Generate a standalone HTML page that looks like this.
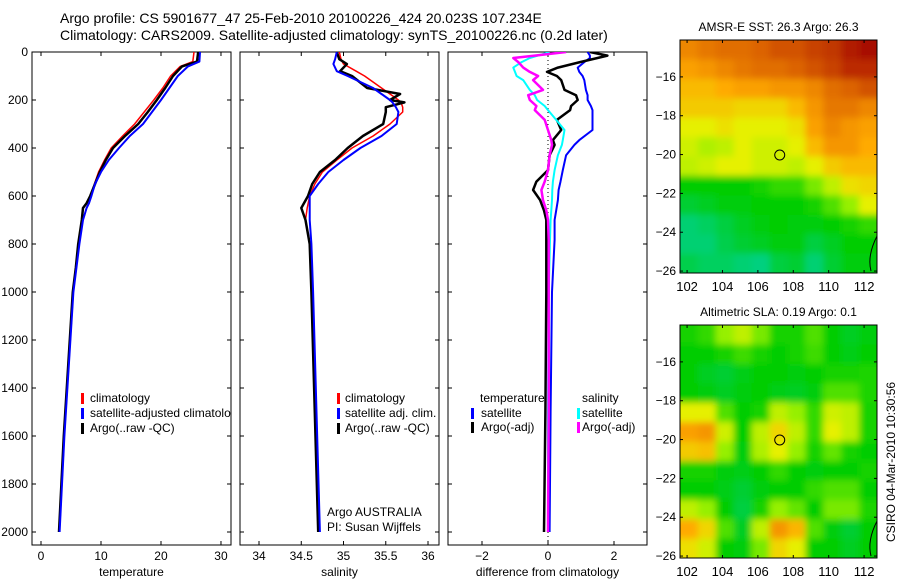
<!DOCTYPE html>
<html><head><meta charset="utf-8"><style>
body{margin:0;background:#fff}
svg{display:block;font-family:"Liberation Sans",sans-serif}
</style></head><body>
<svg id="fig" width="900" height="580" viewBox="0 0 900 580" xmlns="http://www.w3.org/2000/svg">
<defs><filter id="blur" x="-5%" y="-5%" width="110%" height="110%"><feGaussianBlur stdDeviation="3.5"/></filter></defs>
<text x="60" y="23" font-size="14">Argo profile: CS 5901677_47 25-Feb-2010 20100226_424 20.023S 107.234E</text>
<text x="60" y="40" font-size="14">Climatology: CARS2009. Satellite-adjusted climatology: synTS_20100226.nc (0.2d later)</text>
<g id="plots"></g>
<text transform="translate(895,462) rotate(-90)" font-size="12" text-anchor="middle">CSIRO 04-Mar-2010 10:30:56</text>
</svg>
<script>
// ---- data ----
const tDepth=[0,40,60,100,150,200,250,300,350,400,450,500,550,600,630,650,700,800,900,1000,1200,1400,1600,1800,2000];
const tArgo =[26.2,26.0,23.5,22.0,20.7,19.3,17.8,16.2,14.0,12.0,10.8,9.8,9.0,8.2,7.6,7.0,6.8,6.2,5.8,5.3,4.8,4.3,3.8,3.4,3.0];
const tClim =[25.5,25.3,23.2,21.6,20.3,18.8,17.2,15.6,13.6,11.7,10.6,9.6,8.9,8.3,8.0,7.6,7.0,6.3,5.8,5.3,4.8,4.3,3.8,3.4,3.0];
const tSat  =[26.5,26.4,24.5,22.8,21.4,20.0,18.5,17.0,14.8,13.0,11.3,10.0,9.0,8.4,8.0,7.6,7.0,6.4,5.9,5.4,4.9,4.4,3.9,3.5,3.1];
const sDepth=[0,30,50,80,100,150,175,200,210,230,250,300,350,400,450,500,550,600,650,700,800,1000,1500,2000];
const sArgo =[34.92,34.95,35.04,34.96,35.1,35.28,35.67,35.55,35.72,35.5,35.5,35.47,35.23,35.05,34.9,34.72,34.63,34.58,34.5,34.55,34.6,34.62,34.66,34.7];
const sClim =[34.95,34.97,35.0,35.15,35.25,35.45,35.55,35.65,35.68,35.7,35.7,35.55,35.35,35.1,34.92,34.75,34.66,34.6,34.57,34.55,34.6,34.62,34.66,34.7];
const sSat  =[34.92,34.9,34.88,34.92,35.05,35.35,35.45,35.55,35.58,35.62,35.65,35.63,35.45,35.2,35.0,34.82,34.7,34.6,34.6,34.6,34.62,34.64,34.68,34.72];
const dDepth=[0,15,25,42,65,83,100,117,158,180,200,225,242,283,325,367,387,430,492,540,575,617,660,700,783,1000,1500,2000];
const dTSat =[1.2,1.27,1.27,1.1,0.9,0.95,1.05,1.1,1.15,1.2,1.2,1.3,1.35,1.35,1.35,0.95,0.8,0.55,0.45,0.38,0.32,0.3,0.25,0.2,0.2,0.12,0.08,0.05];
const dTArgo=[1.27,1.8,1.5,0.97,0.3,-0.03,0.27,0.4,0.5,0.85,0.9,0.7,0.67,0.27,0.4,0.15,0.2,0.05,0.0,-0.35,-0.45,-0.24,-0.12,-0.05,-0.05,-0.05,-0.08,-0.12];
const dSSat =[0.05,-0.3,-0.55,-0.8,-1.05,-1.0,-0.95,-0.75,-0.55,-0.4,-0.33,-0.1,0.0,0.25,0.5,0.45,0.42,0.3,0.2,0.15,0.13,0.12,0.1,0.08,0.06,0.02,0.0,0.0];
const dSArgo=[0.55,-0.4,-1.05,-0.9,-0.75,-0.55,-0.3,-0.45,-0.15,-0.6,-0.55,-0.35,-0.4,-0.1,-0.0,0.1,0.12,0.05,0.0,-0.1,-0.2,-0.15,-0.05,0.0,0.02,0.02,0.02,0.0];
const depthTicks=[0,200,400,600,800,1000,1200,1400,1600,1800,2000];
const tTicks=[0,10,20,30], sTicks=[34,34.5,35,35.5,36], dTicks=[-2,0,2];
const latTicks=[16,18,20,22,24,26], lonTicks=[102,104,106,108,110,112];
const sstGrid=[
[0.75,0.78,0.8,0.8,0.82,0.85,0.85,0.88,0.9,0.95,0.98],
[0.7,0.72,0.75,0.78,0.8,0.8,0.82,0.85,0.88,0.92,0.92],
[0.65,0.65,0.68,0.7,0.7,0.72,0.72,0.75,0.8,0.82,0.85],
[0.62,0.62,0.62,0.6,0.6,0.6,0.65,0.72,0.78,0.78,0.75],
[0.55,0.55,0.58,0.55,0.55,0.55,0.58,0.7,0.75,0.72,0.7],
[0.52,0.48,0.5,0.55,0.52,0.52,0.55,0.65,0.72,0.72,0.68],
[0.5,0.52,0.55,0.55,0.52,0.52,0.5,0.55,0.62,0.65,0.65],
[0.3,0.3,0.3,0.3,0.32,0.35,0.35,0.42,0.5,0.58,0.6],
[0.22,0.25,0.28,0.28,0.3,0.3,0.3,0.32,0.38,0.45,0.55],
[0.12,0.15,0.2,0.25,0.28,0.3,0.28,0.28,0.3,0.32,0.35],
[0.12,0.12,0.18,0.22,0.25,0.28,0.28,0.2,0.25,0.3,0.3],
[0.18,0.15,0.15,0.12,0.1,0.2,0.22,0.12,0.22,0.28,0.28]];
const slaGrid=[
[0.32,0.35,0.45,0.5,0.42,0.32,0.32,0.38,0.3,0.25,0.28],
[0.3,0.3,0.32,0.36,0.32,0.3,0.32,0.36,0.3,0.27,0.3],
[0.3,0.25,0.22,0.27,0.3,0.3,0.28,0.3,0.32,0.32,0.33],
[0.3,0.28,0.25,0.28,0.3,0.27,0.25,0.28,0.38,0.38,0.33],
[0.55,0.55,0.38,0.3,0.32,0.5,0.45,0.35,0.52,0.5,0.32],
[0.7,0.72,0.52,0.3,0.5,0.6,0.5,0.35,0.55,0.5,0.32],
[0.62,0.64,0.45,0.28,0.48,0.55,0.45,0.32,0.4,0.32,0.3],
[0.32,0.32,0.28,0.27,0.3,0.35,0.3,0.28,0.3,0.3,0.32],
[0.3,0.3,0.27,0.22,0.28,0.3,0.3,0.35,0.38,0.38,0.3],
[0.5,0.45,0.3,0.2,0.32,0.45,0.4,0.3,0.42,0.42,0.33],
[0.68,0.6,0.38,0.25,0.5,0.72,0.66,0.38,0.28,0.22,0.3],
[0.58,0.52,0.3,0.28,0.42,0.6,0.55,0.3,0.3,0.25,0.3]];
const argoLon=107.234, argoLat=20.023;

// ---- drawing ----
const NS='http://www.w3.org/2000/svg';
const root=document.getElementById('plots');
function mk(tag,at,parent){const e=document.createElementNS(NS,tag);for(const k in at)e.setAttribute(k,at[k]);(parent||root).appendChild(e);return e;}
const yD=d=>52+d*0.24;
function panel(name,x0,x1,xmin,xmax,ticks,label,showY){
  const g=mk('g',{});
  
  
  const sx=v=>x0+(v-xmin)/(xmax-xmin)*(x1-x0);
  const cid='clip-'+name;
  const cp=mk('clipPath',{id:cid},g);mk('rect',{x:x0,y:52,width:x1-x0,height:493},cp);
  mk('rect',{x:x0,y:52,width:x1-x0,height:493,fill:'none',stroke:'#000','stroke-width':1},g);
  depthTicks.forEach(d=>{
    mk('line',{x1:x0,x2:x0+4,y1:yD(d),y2:yD(d),stroke:'#000'},g);
    mk('line',{x1:x1,x2:x1-4,y1:yD(d),y2:yD(d),stroke:'#000'},g);
    if(showY){const t=mk('text',{x:28,y:yD(d)+4,'font-size':12,'text-anchor':'end'},g);t.textContent=d;
      
      }
  });
  ticks.forEach(v=>{
    mk('line',{x1:sx(v),x2:sx(v),y1:545,y2:541,stroke:'#000'},g);
    mk('line',{x1:sx(v),x2:sx(v),y1:52,y2:56,stroke:'#000'},g);
    const t=mk('text',{x:sx(v),y:560,'font-size':12,'text-anchor':'middle'},g);t.textContent=(v<0?'\u2212'+(-v):v);
    
    
  });
  const xl=mk('text',{x:(x0+x1)/2,y:576,'font-size':12,'text-anchor':'middle'},g);xl.textContent=label;
  
  
  const inner=mk('g',{'clip-path':'url(#'+cid+')'},g);
  return {g,inner,sx};
}
function line(p,depths,vals,color,w,name){
  const pts=depths.map((d,i)=>p.sx(vals[i]).toFixed(1)+','+yD(d).toFixed(1)).join(' ');
  const e=mk('polyline',{points:pts,fill:'none',stroke:color,'stroke-width':w,'stroke-linejoin':'round'},p.inner);
  
  
}
function txt(p,x,y,s,name,extra){const t=mk('text',Object.assign({x,y,'font-size':12},extra||{}),p.inner);t.textContent=s;
  
  return t;}
function bar(p,x,y,c){mk('rect',{x,y:y-10,width:3,height:11,fill:c},p.inner);}

const p1=panel('temperature-panel',32,231,-1.5,31.67,tTicks,'temperature',true);
line(p1,tDepth,tClim,'#f00',1.5,'temp-climatology-line');
line(p1,tDepth,tArgo,'#000',2.5,'temp-argo-line');
line(p1,tDepth,tSat,'#00f',2,'temp-satellite-line');
bar(p1,81,403,'#f00');txt(p1,90,402,'climatology','legend-climatology');
bar(p1,81,418,'#00f');txt(p1,90,417,'satellite-adjusted climatology','legend-satellite');
bar(p1,81,433,'#000');txt(p1,90,432,'Argo(..raw -QC)','legend-argo');

const p2=panel('salinity-panel',240,439,33.775,36.13,sTicks,'salinity',false);
line(p2,sDepth,sClim,'#f00',1.5,'sal-climatology-line');
line(p2,sDepth,sArgo,'#000',2.5,'sal-argo-line');
line(p2,sDepth,sSat,'#00f',2,'sal-satellite-line');
bar(p2,337,403,'#f00');txt(p2,345,402,'climatology','legend-climatology');
bar(p2,337,418,'#00f');txt(p2,345,417,'satellite adj. clim.','legend-satellite');
bar(p2,337,433,'#000');txt(p2,345,432,'Argo(..raw -QC)','legend-argo');
txt(p2,327,516,'Argo AUSTRALIA','float-owner');
txt(p2,327,531,'PI: Susan Wijffels','float-pi');

const p3=panel('difference-panel',448,647,-3.03,3.0,dTicks,'difference from climatology',false);
mk('line',{x1:p3.sx(0),x2:p3.sx(0),y1:52,y2:545,stroke:'#000','stroke-dasharray':'1,3'},p3.inner);
line(p3,dDepth,dTSat,'#00f',2,'diff-temp-satellite');
line(p3,dDepth,dTArgo,'#000',2.5,'diff-temp-argo');
line(p3,dDepth,dSSat,'#0ff',2,'diff-sal-satellite');
line(p3,dDepth,dSArgo,'#f0f',2.5,'diff-sal-argo');
txt(p3,480,402,'temperature','legend-temperature-header');
txt(p3,582,402,'salinity','legend-salinity-header');
bar(p3,471,418,'#00f');txt(p3,481,417,'satellite','legend-temp-satellite');
bar(p3,577,418,'#0ff');txt(p3,582,417,'satellite','legend-sal-satellite');
bar(p3,471,432,'#000');txt(p3,481,431,'Argo(-adj)','legend-temp-argo');
bar(p3,577,432,'#f0f');txt(p3,582,431,'Argo(-adj)','legend-sal-argo');

function cmap(v){
  const st=[[0,[0,210,190]],[0.3,[0,205,0]],[0.45,[150,240,0]],[0.55,[230,240,0]],[0.68,[255,170,0]],[0.82,[220,100,0]],[1,[160,0,0]]];
  for(let i=1;i<st.length;i++){if(v<=st[i][0]){const a=st[i-1],b=st[i],t=(v-a[0])/(b[0]-a[0]);
    return 'rgb('+a[1].map((c,k)=>Math.round(c+(b[1][k]-c)*t)).join(',')+')';}}
  return 'rgb(160,0,0)';
}
function map(name,title,grid,top,bottom){
  const x0=680,x1=877,lonMin=101.6,lonMax=112.73,latMin=14.1,latMax=26.1;
  const sx=v=>x0+(v-lonMin)/(lonMax-lonMin)*(x1-x0);
  const sy=v=>top+(v-latMin)/(latMax-latMin)*(bottom-top);
  const g=mk('g',{});
  
  
  const cid='clip-'+name;
  const cp=mk('clipPath',{id:cid},g);mk('rect',{x:x0,y:top,width:x1-x0,height:bottom-top},cp);
  const cg=mk('g',{'clip-path':'url(#'+cid+')'},g);
  const bg=mk('g',{filter:'url(#blur)'},cg);
  const nr=grid.length,nc=grid[0].length;
  const cw=(x1-x0)/nc,ch=(bottom-top)/nr;
  grid.forEach((row,r)=>row.forEach((v,c)=>{
    const ex0=c===0?-12:0, ex1=c===nc-1?12:0, ey0=r===0?-12:0, ey1=r===nr-1?12:0;
    const cell=mk('rect',{x:(x0+c*cw+ex0).toFixed(2),y:(top+r*ch+ey0).toFixed(2),width:(cw+0.6-ex0+ex1).toFixed(2),height:(ch+0.6-ey0+ey1).toFixed(2),fill:cmap(v)},bg);
    
    
  }));
  mk('rect',{x:x0,y:top,width:x1-x0,height:bottom-top,fill:'none',stroke:'#000'},g);
  latTicks.forEach(v=>{mk('line',{x1:x0,x2:x0+3,y1:sy(v),y2:sy(v),stroke:'#000'},g);mk('line',{x1:x1,x2:x1-3,y1:sy(v),y2:sy(v),stroke:'#000'},g);
    const t=mk('text',{x:x0-4,y:sy(v)+4,'font-size':12,'text-anchor':'end'},g);t.textContent='\u2212'+v;
    
    });
  lonTicks.forEach(v=>{mk('line',{x1:sx(v),x2:sx(v),y1:bottom,y2:bottom-3,stroke:'#000'},g);mk('line',{x1:sx(v),x2:sx(v),y1:top,y2:top+3,stroke:'#000'},g);
    const t=mk('text',{x:sx(v),y:bottom+18,'font-size':13,'text-anchor':'middle'},g);t.textContent=v;
    
    });
  const tt=mk('text',{x:(x0+x1)/2,y:top-9,'font-size':12,'text-anchor':'middle'},g);tt.textContent=title;
  
  
  const c=mk('circle',{cx:sx(argoLon),cy:sy(argoLat),r:5,fill:'none',stroke:'#000'},g);
  
  
  mk('path',{d:`M${x1} ${sy(24.2)} Q${x1-10} ${sy(25.2)} ${x1-6} ${sy(26)}`,fill:'none',stroke:'#000'},g);
}
map('sst-map','AMSR-E SST: 26.3 Argo: 26.3',sstGrid,40,273);
map('sla-map','Altimetric SLA: 0.19 Argo: 0.1',slaGrid,325,558);
</script>
</body></html>
